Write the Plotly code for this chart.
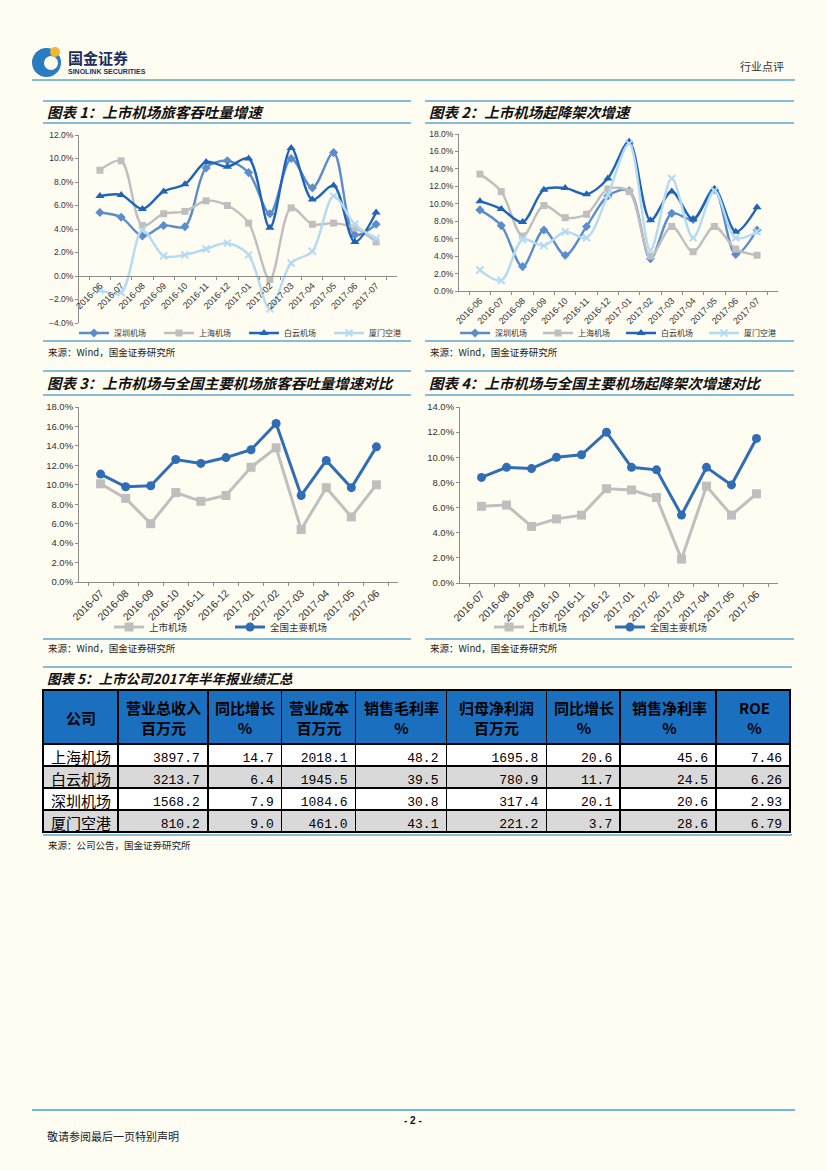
import plotly.graph_objects as go

W, H = 827, 1170
def X(p):
    return p / W
def Y(p):
    return 1 - p / H

# ---------------- data ----------------
months_a = ["2016-06", "2016-07", "2016-08", "2016-09", "2016-10", "2016-11", "2016-12",
            "2017-01", "2017-02", "2017-03", "2017-04", "2017-05", "2017-06", "2017-07"]
pax_shenzhen = [5.4, 5.0, 3.4, 4.3, 4.2, 9.2, 9.8, 8.8, 5.3, 10.0, 7.5, 10.5, 3.5, 4.4]
pax_shanghai = [9.0, 9.8, 4.3, 5.3, 5.5, 6.4, 6.0, 4.5, -0.3, 5.8, 4.4, 4.5, 4.1, 2.9]
pax_baiyun = [6.8, 6.9, 5.7, 7.2, 7.8, 9.7, 9.3, 10.0, 4.1, 10.9, 6.5, 7.7, 2.9, 5.4]
pax_xiamen = [-1.2, -1.4, 3.9, 1.7, 1.8, 2.3, 2.8, 1.8, -2.8, 1.1, 2.1, 6.8, 4.4, 3.2]

flt_shenzhen = [9.3, 7.5, 2.8, 7.0, 4.1, 7.4, 10.9, 11.5, 3.7, 8.9, 8.2, 11.6, 4.2, 7.0]
flt_shanghai = [13.4, 11.4, 6.3, 9.8, 8.4, 8.8, 11.7, 11.4, 4.0, 7.4, 4.5, 7.4, 4.8, 4.1]
flt_baiyun = [10.3, 9.4, 7.9, 11.6, 11.8, 11.1, 12.9, 17.1, 8.1, 11.4, 8.2, 11.7, 6.8, 9.6]
flt_xiamen = [2.4, 1.2, 5.9, 5.2, 6.8, 6.1, 11.0, 16.9, 4.7, 12.9, 6.1, 11.5, 6.1, 6.8]

months_b = ["2016-07", "2016-08", "2016-09", "2016-10", "2016-11", "2016-12",
            "2017-01", "2017-02", "2017-03", "2017-04", "2017-05", "2017-06"]
cmp_pax_listed = [10.1, 8.6, 6.0, 9.2, 8.3, 8.9, 11.8, 13.8, 5.4, 9.7, 6.7, 10.0]
cmp_pax_national = [11.1, 9.8, 9.9, 12.6, 12.2, 12.8, 13.6, 16.3, 8.9, 12.5, 9.7, 13.9]
cmp_flt_listed = [6.1, 6.2, 4.5, 5.1, 5.4, 7.5, 7.4, 6.8, 1.9, 7.7, 5.4, 7.1]
cmp_flt_national = [8.4, 9.2, 9.1, 10.0, 10.2, 12.0, 9.2, 9.0, 5.4, 9.2, 7.8, 11.5]

series_names = ["深圳机场", "上海机场", "白云机场", "厦门空港"]
cmp_names = ["上市机场", "全国主要机场"]

table_headers = [["公司"], ["营业总收入", "百万元"], ["同比增长", "%"], ["营业成本", "百万元"],
                 ["销售毛利率", "%"], ["归母净利润", "百万元"], ["同比增长", "%"],
                 ["销售净利率", "%"], ["ROE", "%"]]
companies = ["上海机场", "白云机场", "深圳机场", "厦门空港"]
revenue = [3897.7, 3213.7, 1568.2, 810.2]
revenue_yoy = [14.7, 6.4, 7.9, 9.0]
op_cost = [2018.1, 1945.5, 1084.6, 461.0]
gross_margin = [48.2, 39.5, 30.8, 43.1]
net_profit = [1695.8, 780.9, 317.4, 221.2]
profit_yoy = [20.6, 11.7, 20.1, 3.7]
net_margin = [45.6, 24.5, 20.6, 28.6]
roe = [7.46, 6.26, 2.93, 6.79]

# ---------------- styles ----------------
BG = "#FFFCF2"
RULE = "#5AAAD0"
C_SZ = "#5B8DCB"
C_SH = "#BFBFBF"
C_BY = "#1E64B8"
C_XM = "#B4DBF4"
C_NAT = "#2F6DB5"
AX = "#8C8C8C"
CJK = "Noto Sans CJK SC"
LAT = "Liberation Sans"

fig = go.Figure()

def add_line(x, y, name, color, symbol, size, xa, ya, lg, shape, lw, thin=False):
    marker = dict(symbol=symbol, size=size, color=color)
    if thin:
        marker["line"] = dict(color=color, width=2)
    fig.add_trace(go.Scatter(
        x=x, y=y, name=name, mode="lines+markers",
        line=dict(color=color, width=lw, shape=shape, smoothing=0.9),
        marker=marker, xaxis=xa, yaxis=ya, legend=lg, hoverinfo="skip"))

# chart 1
add_line(months_a, pax_shenzhen, series_names[0], C_SZ, "diamond", 7, "x", "y", "legend", "spline", 2.4)
add_line(months_a, pax_shanghai, series_names[1], C_SH, "square", 7, "x", "y", "legend", "spline", 2.4)
add_line(months_a, pax_baiyun, series_names[2], C_BY, "triangle-up", 8, "x", "y", "legend", "spline", 2.4)
add_line(months_a, pax_xiamen, series_names[3], C_XM, "x-thin", 7, "x", "y", "legend", "spline", 2.4, thin=True)
# chart 2
add_line(months_a, flt_shenzhen, series_names[0], C_SZ, "diamond", 7, "x2", "y2", "legend2", "spline", 2.4)
add_line(months_a, flt_shanghai, series_names[1], C_SH, "square", 7, "x2", "y2", "legend2", "spline", 2.4)
add_line(months_a, flt_baiyun, series_names[2], C_BY, "triangle-up", 8, "x2", "y2", "legend2", "spline", 2.4)
add_line(months_a, flt_xiamen, series_names[3], C_XM, "x-thin", 7, "x2", "y2", "legend2", "spline", 2.4, thin=True)
# chart 3
add_line(months_b, cmp_pax_listed, cmp_names[0], C_SH, "square", 9, "x3", "y3", "legend3", "linear", 3)
add_line(months_b, cmp_pax_national, cmp_names[1], C_NAT, "circle", 9, "x3", "y3", "legend3", "linear", 3)
# chart 4
add_line(months_b, cmp_flt_listed, cmp_names[0], C_SH, "square", 9, "x4", "y4", "legend4", "linear", 3)
add_line(months_b, cmp_flt_national, cmp_names[1], C_NAT, "circle", 9, "x4", "y4", "legend4", "linear", 3)

# table
def fmt(vals, d=1):
    return [f"{v:.{d}f}" for v in vals]

TBL_X0, TBL_X1, TBL_Y0, HEAD_H, ROW_H = 43, 791, 690, 54, 22
col_w = [75, 90, 74, 74, 91, 100, 74, 96, 74]
cols = [companies, fmt(revenue), fmt(revenue_yoy), fmt(op_cost), fmt(gross_margin),
        fmt(net_profit), fmt(profit_yoy), fmt(net_margin), fmt(roe, 2)]
row_fill = ["#FFFFFF", "#D9D9D9", "#FFFFFF", "#D9D9D9"]
fig.add_trace(go.Table(
    domain=dict(x=[X(TBL_X0), X(TBL_X1)], y=[Y(850), Y(TBL_Y0)]),
    columnwidth=col_w,
    header=dict(values=[""] * len(col_w),
                fill_color="#1A6FBF", line=dict(color="black", width=1.6),
                height=HEAD_H, font=dict(family=CJK, size=15, color="black")),
    cells=dict(values=cols, fill_color=[row_fill] * len(col_w),
               line=dict(color="black", width=1.6),
               align=["left"] + ["right"] * 8, height=ROW_H,
               font=dict(family=[CJK] + ["Liberation Mono"] * 8, size=[15] + [13] * 8,
                         color="black"))))

# ---------------- axes ----------------
def xax(dom, anchor, size, position=None):
    d = dict(domain=[X(dom[0]), X(dom[1])], type="category", showgrid=False, zeroline=False,
             showline=True, linecolor=AX, linewidth=1, ticks="outside", ticklen=3,
             tickcolor=AX, tickson="boundaries", tickangle=-45, anchor=anchor,
             tickfont=dict(family=LAT, size=size, color="#333333"), fixedrange=True)
    if position is not None:
        d["position"] = position
    return d

def yax(top, bottom, rng, anchor, size):
    return dict(domain=[Y(bottom), Y(top)], range=rng, dtick=2, tick0=0, showgrid=False,
                zeroline=False, showline=True, linecolor=AX, linewidth=1, ticks="outside",
                ticklen=3, tickcolor=AX, ticksuffix="%", tickformat=".1f", anchor=anchor,
                tickfont=dict(family=LAT, size=size, color="#333333"), fixedrange=True)

layout = dict(
    xaxis=xax((79, 397), "free", 9, position=Y(276)),
    yaxis=yax(135, 323, [-4, 12], "x", 8.5),
    xaxis2=xax((459, 778), "y2", 9),
    yaxis2=yax(134, 291, [0, 18], "x2", 8.5),
    xaxis3=xax((79, 398), "y3", 10.5),
    yaxis3=yax(407, 582, [0, 18], "x3", 9.5),
    xaxis4=xax((460, 778), "y4", 10.5),
    yaxis4=yax(407, 583, [0, 14], "x4", 9.5),
)

def leg(x, y, size, ew):
    return dict(x=X(x), y=Y(y), xanchor="left", yanchor="middle", orientation="h",
                font=dict(family=CJK, size=size, color="#333333"), bgcolor="rgba(0,0,0,0)",
                entrywidth=ew, entrywidthmode="pixels", itemwidth=30, tracegroupgap=0)

layout["legend"] = leg(74, 333, 8, 40)
layout["legend2"] = leg(455, 333, 8, 38)
layout["legend3"] = leg(109, 627, 9.5, 76)
layout["legend4"] = leg(489, 627, 9.5, 76)

# ---------------- decoration ----------------
shapes = []
def hline(x0, x1, y, color=RULE, w=1.6):
    shapes.append(dict(type="line", xref="paper", yref="paper", x0=X(x0), x1=X(x1),
                       y0=Y(y), y1=Y(y), line=dict(color=color, width=w)))

hline(32, 795, 80)
for y in (101, 123, 341, 371, 395, 639):
    hline(43, 411, y)
    hline(425, 794, y)
hline(43, 792, 667)
hline(43, 792, 835)
hline(32, 795, 1110, color="#3FA0D8", w=1.4)

def circ(x0, y0, x1, y1, color):
    shapes.append(dict(type="circle", xref="paper", yref="paper", x0=X(x0), x1=X(x1),
                       y0=Y(y1), y1=Y(y0), fillcolor=color, line=dict(width=0)))

circ(32, 48, 61, 77, "#2A7BC0")
circ(44, 56, 58, 70, BG)
circ(50, 47, 60, 57, "#F2B630")

ann = []
def txt(x, y, s, size, family=CJK, color="#111111", anchor="left", weight="normal", style="normal"):
    ann.append(dict(x=X(x), y=Y(y), xref="paper", yref="paper", text=s, showarrow=False,
                    xanchor=anchor, yanchor="middle", align="center",
                    font=dict(family=family, size=size, color=color, weight=weight, style=style)))

# header texts of the table, centred on each column
total_w = sum(col_w)
scale = (TBL_X1 - TBL_X0) / total_w
edge = TBL_X0
for w, h in zip(col_w, table_headers):
    cx = edge + w * scale / 2
    txt(cx, TBL_Y0 + HEAD_H / 2, "<br>".join(h), 15, color="#000000", anchor="center", weight="bold")
    edge += w * scale

txt(66, 57, "国金证券", 15, color="#1B2F5E", weight="bold")
txt(66, 71, "SINOLINK SECURITIES", 7, family=LAT, color="#1B2F5E", weight="bold")
txt(786, 66, "行业点评", 11, color="#333333", anchor="right")

txt(45, 112, "图表 1：上市机场旅客吞吐量增速", 14.5, weight="bold", style="italic")
txt(427, 112, "图表 2：上市机场起降架次增速", 14.5, weight="bold", style="italic")
txt(45, 383, "图表 3：上市机场与全国主要机场旅客吞吐量增速对比", 14.5, weight="bold", style="italic")
txt(427, 383, "图表 4：上市机场与全国主要机场起降架次增速对比", 14.5, weight="bold", style="italic")
txt(45, 678, "图表 5：上市公司2017年半年报业绩汇总", 13.5, weight="bold", style="italic")

src = "来源：Wind，国金证券研究所"
txt(46, 352, src, 9.5, color="#222222")
txt(428, 352, src, 9.5, color="#222222")
txt(46, 648, src, 9.5, color="#222222")
txt(428, 648, src, 9.5, color="#222222")
txt(46, 845, "来源：公司公告，国金证券研究所", 9.5, color="#222222")

txt(413, 1120, "- 2 -", 10, family=LAT, color="#111111", anchor="center", weight="bold")
txt(45, 1136, "敬请参阅最后一页特别声明", 11, color="#222222")

layout.update(dict(width=W, height=H,
                   margin=dict(l=0, r=0, t=0, b=0, pad=0, autoexpand=False),
                   paper_bgcolor=BG, plot_bgcolor=BG, shapes=shapes, annotations=ann,
                   showlegend=True, hovermode=False))
fig.update_layout(**layout)
fig.write_html("out.html", config=dict(displayModeBar=False),
               post_script="document.body.style.margin='0';document.body.style.background='#FFFCF2';")
